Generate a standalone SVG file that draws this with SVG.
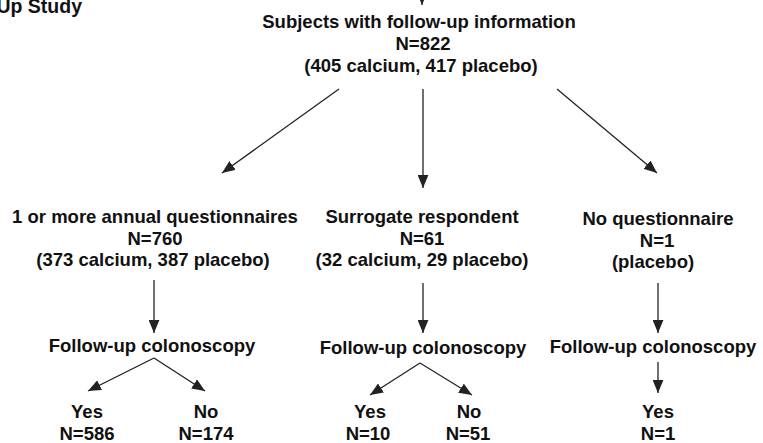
<svg xmlns="http://www.w3.org/2000/svg" width="763" height="443" viewBox="0 0 763 443">
<style>
text{font-family:"Liberation Sans",Arial,sans-serif;font-weight:bold;font-size:18.5px;fill:#111;text-anchor:middle}
.c line{stroke:#222;stroke-width:1.3;marker-end:url(#ah)}
</style>
<defs>
<marker id="ah" markerUnits="userSpaceOnUse" markerWidth="13" markerHeight="11" refX="12" refY="5" orient="auto" viewBox="0 0 12 10">
<path d="M0,0 L12,5 L0,10 z" fill="#222"/>
</marker>
</defs>
<rect width="763" height="443" fill="#fff"/>
<g id="title"><text x="82" y="13" style="text-anchor:end;font-size:19.5px">Up Study</text></g>
<g id="n-root">
<text x="419" y="28">Subjects with follow-up information</text>
<text x="423" y="50">N=822</text>
<text x="421" y="72">(405 calcium, 417 placebo)</text>
</g>
<g id="n-annual">
<text x="155" y="223">1 or more annual questionnaires</text>
<text x="155" y="245">N=760</text>
<text x="153" y="266">(373 calcium, 387 placebo)</text>
</g>
<g id="n-surrogate">
<text x="422" y="223">Surrogate respondent</text>
<text x="422" y="245">N=61</text>
<text x="422" y="266">(32 calcium, 29 placebo)</text>
</g>
<g id="n-none">
<text x="658" y="225">No questionnaire</text>
<text x="657" y="247">N=1</text>
<text x="653" y="268">(placebo)</text>
</g>
<g id="n-colo1"><text x="152" y="352">Follow-up colonoscopy</text></g>
<g id="n-colo2"><text x="423" y="354">Follow-up colonoscopy</text></g>
<g id="n-colo3"><text x="653" y="353">Follow-up colonoscopy</text></g>
<g id="n-yes1"><text x="87" y="418">Yes</text><text x="87" y="440">N=586</text></g>
<g id="n-no1"><text x="206" y="418">No</text><text x="206" y="440">N=174</text></g>
<g id="n-yes2"><text x="370" y="418">Yes</text><text x="368" y="440">N=10</text></g>
<g id="n-no2"><text x="469" y="418">No</text><text x="468" y="440">N=51</text></g>
<g id="n-yes3"><text x="658" y="418">Yes</text><text x="658" y="440">N=1</text></g>
<g id="connectors" class="c">
<line x1="422" y1="-20" x2="422" y2="5"/>
<line x1="339" y1="89" x2="222" y2="173"/>
<line x1="423" y1="89" x2="423" y2="188"/>
<line x1="557" y1="89" x2="657" y2="173"/>
<line x1="154" y1="280" x2="154" y2="333"/>
<line x1="423" y1="283" x2="423" y2="333"/>
<line x1="658" y1="283" x2="658" y2="333"/>
<line x1="154" y1="358" x2="88" y2="391"/>
<line x1="154" y1="358" x2="205" y2="391"/>
<line x1="420" y1="363" x2="370" y2="395"/>
<line x1="420" y1="363" x2="472" y2="395"/>
<line x1="658" y1="362" x2="658" y2="393"/>
</g>
</svg>
